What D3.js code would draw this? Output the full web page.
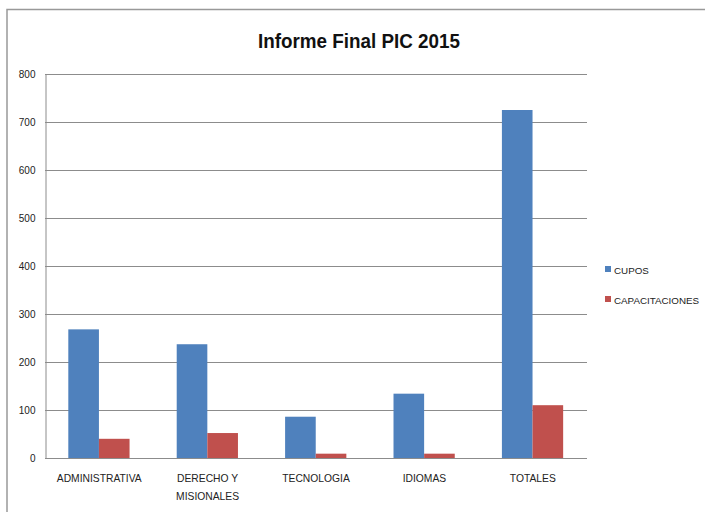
<!DOCTYPE html>
<html><head><meta charset="utf-8">
<script src="https://cdn.jsdelivr.net/npm/d3@7"></script>
<style>body{margin:0;background:#fff}svg{display:block}</style>
</head><body>
<svg id="c" width="705" height="512"></svg>
<script>
const categories = [["ADMINISTRATIVA"], ["DERECHO Y", "MISIONALES"], ["TECNOLOGIA"], ["IDIOMAS"], ["TOTALES"]];
const seriesNames = ["CUPOS", "CAPACITACIONES"];
const cupos = [268, 237, 86, 134, 725];
const capacitaciones = [40, 52, 9, 9, 110];
const yTicks = [0, 100, 200, 300, 400, 500, 600, 700, 800];
const colors = ["#4F81BD", "#C0504D"];
const title = "Informe Final PIC 2015";

const svg = d3.select("#c");
const font = "'Liberation Sans',Arial,sans-serif";
const L = 45, R = 587, T = 74, B = 458;

// frame
svg.append("path").attr("d", "M7,512 V9.5 H705").attr("fill", "none").attr("stroke", "#999").attr("stroke-width", 1.5);

const y = d3.scaleLinear().domain([0, 800]).range([B, T]);
const x0 = d3.scaleBand().domain(d3.range(categories.length)).range([L, R]).padding(0);
const bw = x0.bandwidth();
const x1 = d3.scaleBand().domain([0, 1]).range([bw * 0.215, bw * 0.78]).padding(0);

// gridlines
svg.append("g").selectAll("line").data(yTicks).join("line")
  .attr("x1", L).attr("x2", R)
  .attr("y1", d => Math.round(y(d)) + 0.5).attr("y2", d => Math.round(y(d)) + 0.5)
  .attr("stroke", "#8c8c8c").attr("stroke-width", 1);

// y axis
const yAxis = d3.axisLeft(y).tickValues(yTicks).tickSize(0).tickPadding(10);
const ga = svg.append("g").attr("transform", `translate(${L + 0.5},0.5)`).call(yAxis);
ga.select(".domain").attr("stroke", "#8c8c8c");
ga.selectAll("text").attr("font-family", font).attr("font-size", 10).attr("fill", "#222");

// bars
const data = categories.map((c, i) => [cupos[i], capacitaciones[i]]);
const groups = svg.append("g").selectAll("g").data(data).join("g")
  .attr("transform", (d, i) => `translate(${x0(i)},0)`);
groups.selectAll("rect").data(d => d).join("rect")
  .attr("x", (d, j) => x1(j)).attr("width", x1.bandwidth())
  .attr("y", d => y(d)).attr("height", d => B - y(d))
  .attr("fill", (d, j) => colors[j]);

// category labels
const cl = svg.append("g").selectAll("text").data(categories).join("text")
  .attr("x", (d, i) => x0(i) + bw / 2).attr("y", 482)
  .attr("text-anchor", "middle").attr("font-family", font).attr("font-size", 10.3).attr("fill", "#222");
cl.selectAll("tspan").data(d => d).join("tspan")
  .attr("x", function () { return this.parentNode.getAttribute("x"); })
  .attr("dy", (d, k) => k === 0 ? 0 : 18).text(d => d);

// title
svg.append("text").attr("x", 359).attr("y", 48).attr("text-anchor", "middle")
  .attr("font-family", font).attr("font-weight", "bold").attr("font-size", 21).attr("fill", "#111")
  .attr("textLength", 202).attr("lengthAdjust", "spacingAndGlyphs").text(title);

// legend
const lg = svg.append("g").selectAll("g").data(seriesNames).join("g")
  .attr("transform", (d, i) => `translate(605,${270 + i * 30})`);
lg.append("rect").attr("x", 0).attr("y", -4).attr("width", 6).attr("height", 6).attr("fill", (d, i) => colors[i]);
lg.append("text").attr("x", 9).attr("y", 3.5).attr("font-family", font).attr("font-size", 9.8).attr("fill", "#222").text(d => d);
</script>
</body></html>
